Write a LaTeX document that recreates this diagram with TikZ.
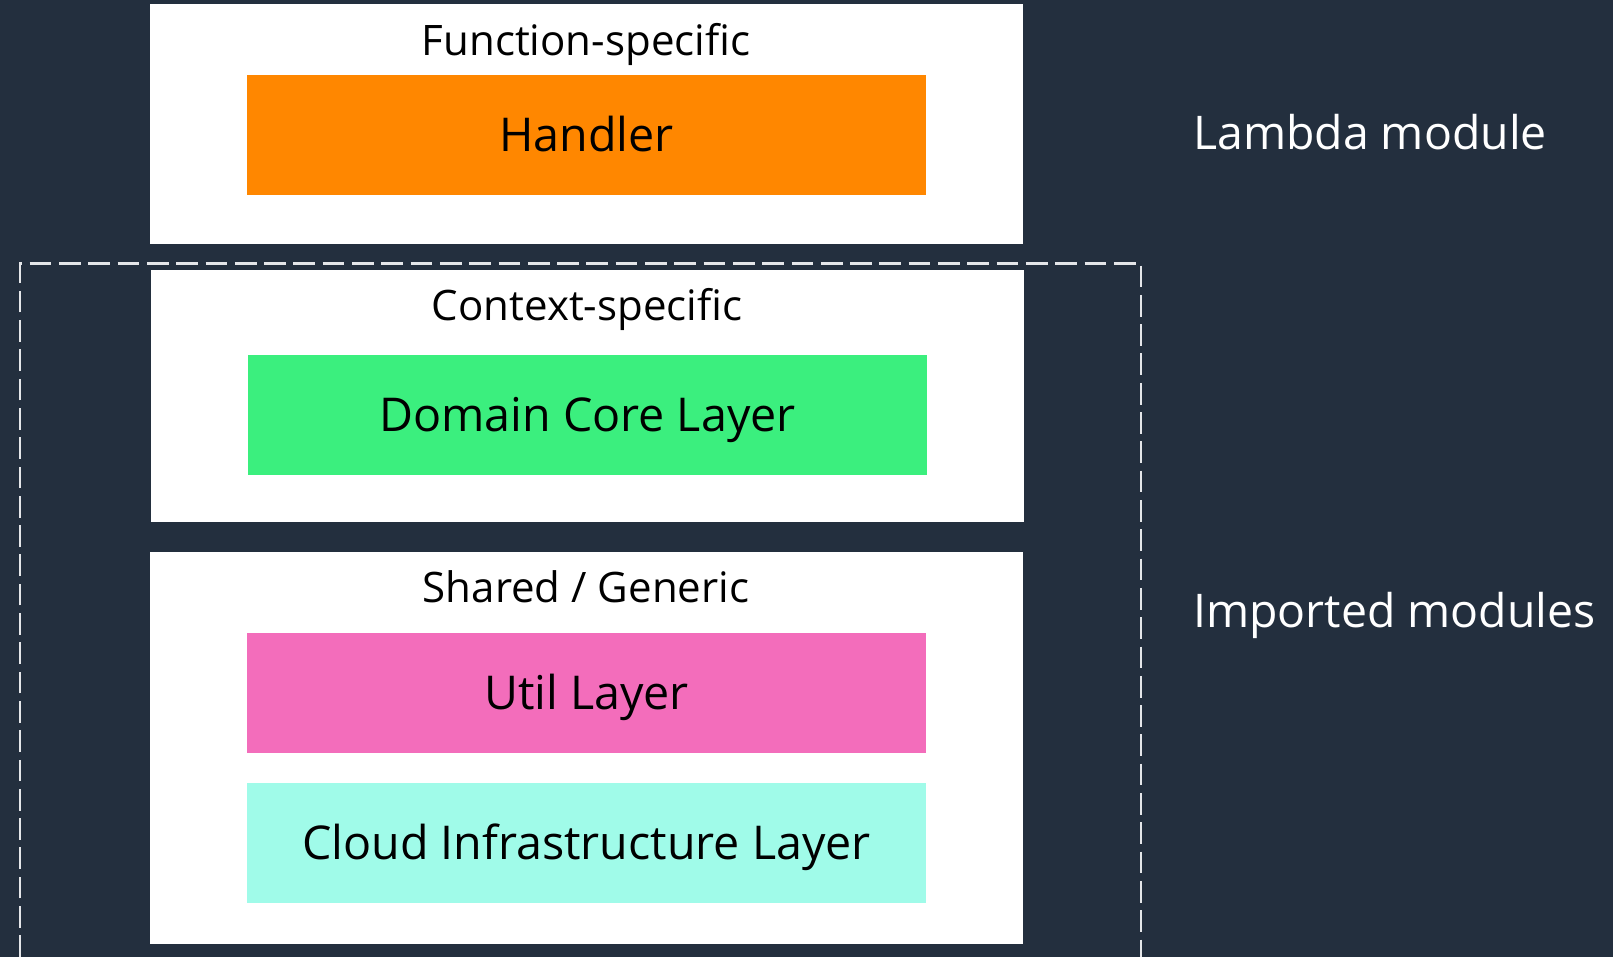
\documentclass[tikz,border=0pt]{standalone}
\usepackage{fontspec}
\setmainfont{Open Sans}
\definecolor{bgdark}{HTML}{232F3E}
\definecolor{handlerorange}{HTML}{FF8700}
\definecolor{coregreen}{HTML}{3BEF7E}
\definecolor{utilpink}{HTML}{F36DBB}
\definecolor{cloudcyan}{HTML}{A0FBE9}
\definecolor{dashgrey}{HTML}{E4E6E9}

\tikzset{
  panel/.style={fill=white, inner sep=0pt, minimum width=873pt},
  layer/.style={inner sep=0pt, minimum width=679pt, minimum height=120pt,
    text height=33pt, text depth=0pt, font=\fontsize{46.6}{50}\selectfont},
  paneltitle/.style={anchor=base, inner sep=0pt, font=\fontsize{42}{45}\selectfont},
  sidelabel/.style={anchor=base west, inner sep=0pt, text=white,
    font=\fontsize{46.4}{50}\selectfont},
}

\begin{document}
\begin{tikzpicture}[x=1pt, y=-1pt]
		%%%%% START %%%%%
		
		\fill[bgdark] (0, 0) rectangle (1613, 957);
		\useasboundingbox (0, 0) rectangle (1613, 957);
		
		\node[panel, minimum height=240pt] (fnpanel) at (586.5, 124) {};
		\node[panel, minimum height=252pt] (ctxpanel) at (587.5, 396) {};
		\node[panel, minimum height=392pt] (sharedpanel) at (586.5, 748) {};
		
		\node[paneltitle] (fntitle) at (586, 56) {Function-specific};
		\node[paneltitle] (ctxtitle) at (587, 320) {Context-specific};
		\node[paneltitle] (sharedtitle) at (586, 602) {Shared / Generic};
		
		\node[layer, fill=handlerorange] (handler) at (586.5, 135) {Handler};
		\node[layer, fill=coregreen] (domaincore) at (587.5, 415) {Domain Core Layer};
		\node[layer, fill=utilpink] (util) at (586.5, 693) {Util Layer};
		\node[layer, fill=cloudcyan] (cloudinfra) at (586.5, 842.5) {Cloud Infrastructure Layer};
		
		\draw[dashgrey, line width=2.5pt, dash pattern=on 21.7pt off 7.6pt]
			(20, 957) -- (20, 263.5) -- (1141, 263.5) -- (1141, 957);
		
		\node[sidelabel] (lambdamod) at (1193, 150) {Lambda module};
		\node[sidelabel] (importedmod) at (1193, 627) {Imported modules};
		
		%%%%% END %%%%%
\end{tikzpicture}
\end{document}
